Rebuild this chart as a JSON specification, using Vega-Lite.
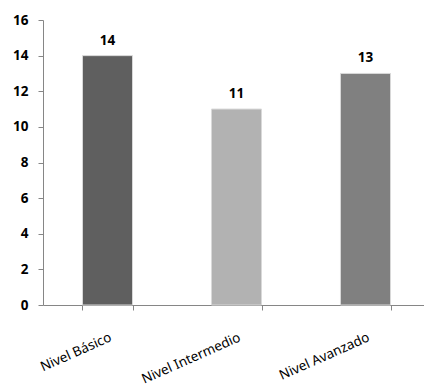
{
  "$schema": "https://vega.github.io/schema/vega-lite/v6.json",
  "width": 387,
  "height": 285,
  "autosize": {"type": "none"},
  "padding": {"left": 43, "top": 20, "right": 0, "bottom": 84},
  "background": "white",
  "config": {"view": {"stroke": null}, "font": "Noto Sans"},
  "data": {"values": [
    {"nivel": "Nivel Básico", "valor": 14},
    {"nivel": "Nivel Intermedio", "valor": 11},
    {"nivel": "Nivel Avanzado", "valor": 13}
  ]},
  "encoding": {
    "x": {"field": "nivel", "type": "nominal", "sort": null,
      "scale": {"paddingInner": 0.612, "paddingOuter": 0.306},
      "axis": {"title": null, "labelAngle": -24, "labelAlign": "right", "labelBaseline": "top", "labelPadding": 20, "labelFontSize": 13.5, "labelColor": "#000000", "domainColor": "#868686", "tickColor": "#868686", "tickSize": 5, "tickBand": "extent", "labelFont": "Noto Sans"}},
    "y": {"field": "valor", "type": "quantitative",
      "scale": {"domain": [0, 16], "nice": false},
      "axis": {"title": null, "values": [0, 2, 4, 6, 8, 10, 12, 14, 16], "grid": false, "domainColor": "#868686", "tickColor": "#868686", "tickSize": 5, "labelPadding": 10, "labelFontSize": 13.5, "labelFontWeight": "bold", "labelColor": "#000000"}}
  },
  "layer": [
    {"mark": {"type": "bar", "stroke": "#d9d9d9", "strokeWidth": 1},
     "encoding": {"color": {"field": "nivel", "type": "nominal", "legend": null,
       "scale": {"domain": ["Nivel Básico", "Nivel Intermedio", "Nivel Avanzado"], "range": ["#5f5f5f", "#b2b2b2", "#808080"]}}}},
    {"mark": {"type": "text", "baseline": "bottom", "dy": -8, "fontSize": 13.5, "fontWeight": "bold", "color": "#000000"},
     "encoding": {"text": {"field": "valor", "type": "quantitative"}}}
  ]
}
